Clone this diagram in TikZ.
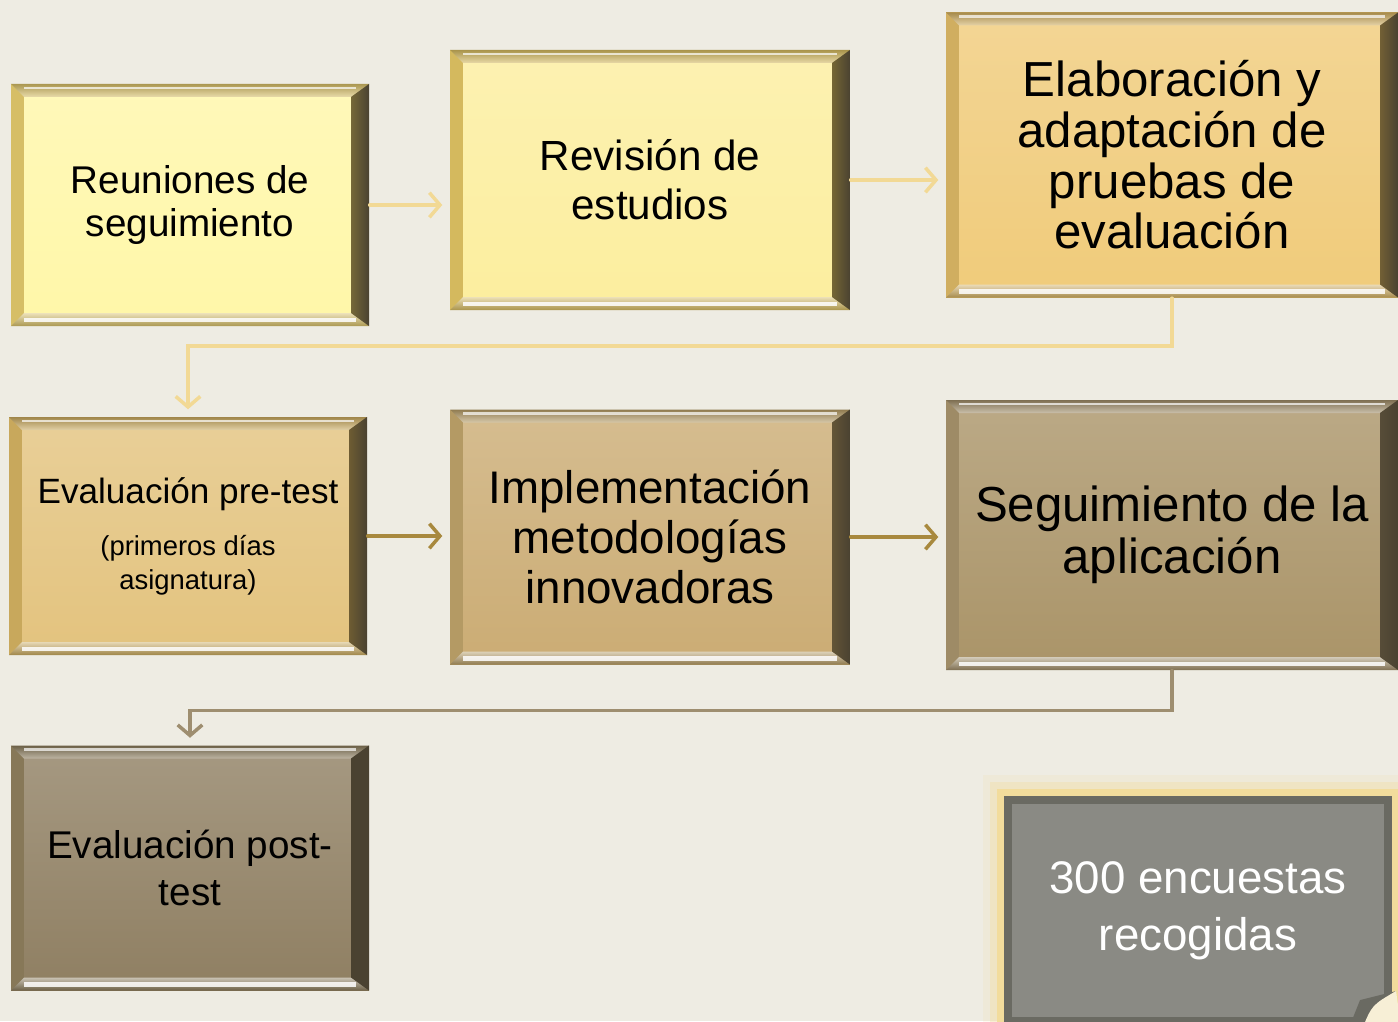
\documentclass[tikz,border=0pt]{standalone}
\usepackage{fontspec}
\setmainfont{Liberation Sans}
\usepackage{tikz}
\usetikzlibrary{arrows.meta}
\usetikzlibrary{positioning}

\definecolor{pagebg}{HTML}{EEECE3}
\definecolor{edgedark}{HTML}{4A4231}
\definecolor{fillA}{HTML}{FFF7A8}
\definecolor{frameA}{HTML}{D6BE66}
\definecolor{fillB}{HTML}{FCEE9E}
\definecolor{frameB}{HTML}{D4B95E}
\definecolor{fillC}{HTML}{F0CB7A}
\definecolor{frameC}{HTML}{D0AE60}
\definecolor{fillD}{HTML}{E3C37E}
\definecolor{frameD}{HTML}{C8A85C}
\definecolor{fillE}{HTML}{CBAC74}
\definecolor{frameE}{HTML}{B49A64}
\definecolor{fillF}{HTML}{AA9468}
\definecolor{frameF}{HTML}{9E8B66}
\definecolor{fillG}{HTML}{8F7F62}
\definecolor{frameG}{HTML}{877858}
\definecolor{notefill}{HTML}{8A8A84}
\definecolor{notedark}{HTML}{6A6A62}
\definecolor{glowcol}{HTML}{F2DC9C}
\definecolor{curlcol}{HTML}{F7EFD6}
\definecolor{flowA}{HTML}{F2D995}
\definecolor{flowB}{HTML}{A8893E}
\definecolor{flowC}{HTML}{9E8E70}

\newcommand{\bvw}{0.13}
\newcommand{\subfont}{\fontsize{7.8}{9}\selectfont}

\begin{document}
\begin{tikzpicture}
  \tikzset{>={Straight Barb[length=3pt,width=7pt]},
    stepbox/.style 2 args={rectangle, inner sep=0pt, align=center, text=black, fill=#2,
      path picture={
        % inner face
        \shade[top color=#1!80!white, bottom color=#1]
          ([shift={(\bvw,\bvw)}]path picture bounding box.south west) rectangle
          ([shift={(-\bvw,-\bvw)}]path picture bounding box.north east);
        % top and bottom bevel
        \shade[top color=#2!80!black, bottom color=#2!55!white]
          (path picture bounding box.north west) -- (path picture bounding box.north east)
          -- ([shift={(-\bvw,-\bvw)}]path picture bounding box.north east)
          -- ([shift={(\bvw,-\bvw)}]path picture bounding box.north west) -- cycle;
        \shade[top color=#2!45!white, bottom color=#2!80!black]
          (path picture bounding box.south west) -- (path picture bounding box.south east)
          -- ([shift={(-\bvw,\bvw)}]path picture bounding box.south east)
          -- ([shift={(\bvw,\bvw)}]path picture bounding box.south west) -- cycle;
        \draw[white, line width=1.2pt, opacity=0.85]
          ([shift={(\bvw,0.06)}]path picture bounding box.south west) --
          ([shift={(-\bvw,0.06)}]path picture bounding box.south east);
        \draw[white, line width=0.8pt, opacity=0.7]
          ([shift={(\bvw,-0.04)}]path picture bounding box.north west) --
          ([shift={(-\bvw,-0.04)}]path picture bounding box.north east);
        % right side
        \shade[left color=#2!55!black, right color=edgedark]
          (path picture bounding box.north east) -- (path picture bounding box.south east)
          -- ([shift={(-0.18,\bvw)}]path picture bounding box.south east)
          -- ([shift={(-0.18,-\bvw)}]path picture bounding box.north east) -- cycle;
      }},
    notebox/.style={rectangle, inner sep=0pt, align=center, text=white, fill=notefill,
      draw=notedark, line width=2.3pt,
      preaction={draw=glowcol, line width=14pt, opacity=0.15},
      preaction={draw=glowcol, line width=10pt, opacity=0.35},
      preaction={draw=glowcol, line width=6pt}},
    link/.style={line width=1pt, line cap=round, shorten >=2pt}}

  \useasboundingbox (0,0) rectangle (13.98,10.21);
  \clip (0,0) rectangle (13.98,10.21);
  \fill[pagebg] (0,0) rectangle (13.98,10.21);

  % first row
  \node[stepbox={fillA}{frameA}, minimum width=3.58cm, minimum height=2.42cm,
    font=\fontsize{11}{12.5}\selectfont] (reun) at (1.90,8.16) {Reuniones de\\seguimiento};
  \node[stepbox={fillB}{frameB}, minimum width=4.0cm, minimum height=2.6cm,
    font=\fontsize{12}{14}\selectfont] (revi) at (6.50,8.41) {Revisión de\\estudios};
  \node[stepbox={fillC}{frameC}, minimum width=4.52cm, minimum height=2.85cm,
    font=\fontsize{14}{14.4}\selectfont] (elab) at (11.72,8.66)
    {Elaboración y\\adaptación de\\pruebas de\\evaluación};

  % second row
  \node[stepbox={fillD}{frameD}, minimum width=3.58cm, minimum height=2.38cm,
    font=\fontsize{10}{13}\selectfont] (pre) at (1.88,4.85)
    {Evaluación pre-test\\[2pt]{\subfont (primeros días}\\[-3.5pt]{\subfont asignatura)}};
  \node[stepbox={fillE}{frameE}, minimum width=4.0cm, minimum height=2.55cm,
    font=\fontsize{13}{14.2}\selectfont] (impl) at (6.50,4.84)
    {Implementación\\metodologías\\innovadoras};
  \node[stepbox={fillF}{frameF}, minimum width=4.52cm, minimum height=2.7cm,
    font=\fontsize{14}{14.8}\selectfont] (segu) at (11.72,4.86)
    {Seguimiento de la\\aplicación};

  % third row
  \node[stepbox={fillG}{frameG}, minimum width=3.58cm, minimum height=2.45cm,
    font=\fontsize{11}{13.6}\selectfont] (post) at (1.90,1.53) {Evaluación post-\\test};
  \node[notebox, minimum width=3.8cm, minimum height=2.21cm,
    font=\fontsize{13}{16.2}\selectfont] (note) at (11.98,1.105) {300 encuestas\\recogidas};

  % curled corner
  \fill[notedark] ([xshift=-0.42cm]note.south east) -- ([shift={(-0.32,0.25)}]note.south east)
    -- ([shift={(0.04,0.34)}]note.south east)
    .. controls ([shift={(-0.2,0.2)}]note.south east) .. ([shift={(-0.3,-0.04)}]note.south east) -- cycle;
  \fill[curlcol] ([shift={(0.04,0.34)}]note.south east)
    .. controls ([shift={(-0.2,0.2)}]note.south east) .. ([shift={(-0.3,-0.04)}]note.south east)
    -- ([shift={(0.1,-0.1)}]note.south east) -- cycle;

  % connectors
  \draw[link, flowA, ->] (reun.east) -- (reun.east -| revi.west);
  \draw[link, flowA, ->] (revi.east) -- (revi.east -| elab.west);
  \draw[link, flowA, ->] (elab.south) -- ++(0,-0.48) -| (pre.north);
  \draw[link, flowB, ->] (pre.east) -- (pre.east -| impl.west);
  \draw[link, flowB, ->] (impl.east) -- (impl.east -| segu.west);
  \draw[link, flowC, ->] (segu.south) -- ++(0,-0.4) -| (post.north);
\end{tikzpicture}
\end{document}
